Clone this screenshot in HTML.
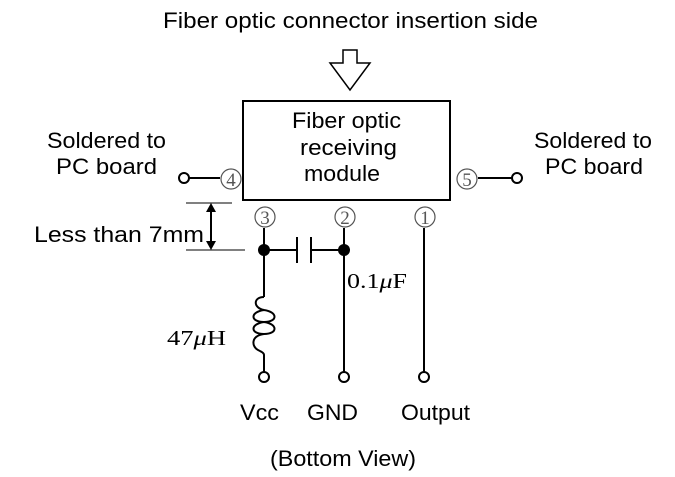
<!DOCTYPE html>
<html><head><style>
body{margin:0;background:#fff;}
svg{display:block;font-family:"Liberation Sans",sans-serif;}
</style></head><body>
<svg width="675" height="477" viewBox="0 0 675 477" xmlns="http://www.w3.org/2000/svg">
<g fill="#000" font-size="22" lengthAdjust="spacingAndGlyphs">
<text x="163" y="28" textLength="375" lengthAdjust="spacingAndGlyphs">Fiber optic connector insertion side</text>
<text x="292" y="128" textLength="109" lengthAdjust="spacingAndGlyphs">Fiber optic</text>
<text x="300" y="155" textLength="97" lengthAdjust="spacingAndGlyphs">receiving</text>
<text x="304" y="181" textLength="76" lengthAdjust="spacingAndGlyphs">module</text>
<text x="47" y="148" textLength="119" lengthAdjust="spacingAndGlyphs">Soldered to</text>
<text x="56" y="174" textLength="101" lengthAdjust="spacingAndGlyphs">PC board</text>
<text x="534" y="148" textLength="118" lengthAdjust="spacingAndGlyphs">Soldered to</text>
<text x="545" y="174" textLength="98" lengthAdjust="spacingAndGlyphs">PC board</text>
<text x="34" y="242" textLength="170" lengthAdjust="spacingAndGlyphs">Less than 7mm</text>
<text x="240" y="420" textLength="39" lengthAdjust="spacingAndGlyphs">Vcc</text>
<text x="307" y="420" textLength="51" lengthAdjust="spacingAndGlyphs">GND</text>
<text x="401" y="420" textLength="69" lengthAdjust="spacingAndGlyphs">Output</text>
<text x="270" y="466" textLength="146" lengthAdjust="spacingAndGlyphs">(Bottom View)</text>
</g>
<g font-family="'Liberation Serif',serif" font-size="21" fill="#000">
<text x="347" y="288" textLength="60" lengthAdjust="spacingAndGlyphs">0.1<tspan font-style="italic">μ</tspan>F</text>
<text x="167" y="345" textLength="59" lengthAdjust="spacingAndGlyphs">47<tspan font-style="italic">μ</tspan>H</text>
</g>
<g stroke="#555" stroke-width="1.2" fill="none">
<circle cx="231" cy="179" r="10"/><circle cx="467" cy="179" r="10"/>
<circle cx="265" cy="217" r="10"/><circle cx="345" cy="217" r="10"/><circle cx="425" cy="217" r="10"/>
</g>
<g font-family="'Liberation Serif',serif" font-size="19" fill="#555" text-anchor="middle">
<text x="231" y="186">4</text>
<text x="467" y="186">5</text>
<text x="265" y="224">3</text>
<text x="345" y="224">2</text>
<text x="425" y="224">1</text>
</g>
<g stroke="#000" stroke-width="2" fill="none">
<polygon points="343,50 357,50 357,63 370,63 350,90 330,63 343,63" stroke-width="1.5"/>
<rect x="243" y="101" width="207" height="99"/>
<line x1="189" y1="178" x2="220" y2="178"/>
<circle cx="184" cy="178" r="5" fill="#fff"/>
<line x1="478" y1="178" x2="512" y2="178"/>
<circle cx="517" cy="178" r="5" fill="#fff"/>
<line x1="264" y1="228" x2="264" y2="297"/>
<line x1="264" y1="355" x2="264" y2="372"/>
<circle cx="264" cy="377" r="5" fill="#fff"/>
<line x1="344" y1="228" x2="344" y2="372"/>
<circle cx="344" cy="377" r="5" fill="#fff"/>
<line x1="424" y1="228" x2="424" y2="372"/>
<circle cx="424" cy="377" r="5" fill="#fff"/>
<line x1="264" y1="250" x2="297" y2="250"/>
<line x1="311" y1="250" x2="344" y2="250"/>
<line x1="297" y1="237" x2="297" y2="263"/>
<line x1="311" y1="237" x2="311" y2="263"/>
<path d="M264,297 C253,297 253,308 264,310 C278,312 278,322 264,322 C250,322 250,312 264,310 M264,322 C278,324 278,334 264,334 C250,334 250,324 264,322 M264,334 C250,336 252,347 258,350 C262,352 264,353 264,355"/>
<line x1="186" y1="203" x2="232" y2="203" stroke-width="1"/>
<line x1="186" y1="250" x2="245" y2="250" stroke-width="1"/>
<line x1="211" y1="210" x2="211" y2="243"/>
</g>
<polygon points="211,203 206,212 216,212" fill="#000"/>
<polygon points="211,250 206,241 216,241" fill="#000"/>
<circle cx="264" cy="250" r="6" fill="#000"/>
<circle cx="344" cy="250" r="6" fill="#000"/>
</svg>
</body></html>
